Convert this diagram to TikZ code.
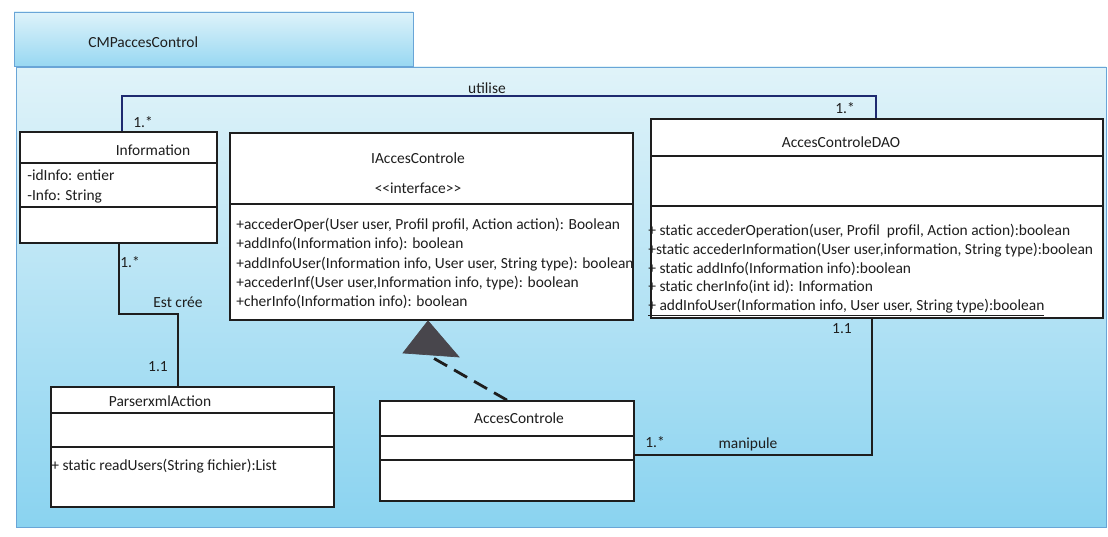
\documentclass[tikz,border=0pt]{standalone}
\usepackage{fontspec}
\setmainfont{Carlito}
\usetikzlibrary{positioning,fit,calc}
\definecolor{pkgtop}{RGB}{224,243,249}
\definecolor{pkgbot}{RGB}{138,211,240}
\definecolor{tabtop}{RGB}{222,243,250}
\definecolor{tabbot}{RGB}{152,216,242}
\definecolor{pkgline}{RGB}{105,165,215}
\definecolor{navyline}{RGB}{30,42,112}
\definecolor{trigray}{RGB}{72,70,76}
\definecolor{ink}{RGB}{30,30,30}
\tikzstyle{classbox} = [draw=ink, fill=white, line width=1pt, inner sep=0pt]
\tikzstyle{member} = [anchor=west, inner sep=0pt, align=left, text=ink,
font=\fontsize{8.8}{10.9}\selectfont]
\tikzstyle{title} = [inner sep=0pt, text=ink, font=\fontsize{8.8}{10}\selectfont]
\tikzstyle{link} = [line width=1pt, draw=ink]
\tikzstyle{realize} = [line width=1.6pt, draw=ink, dash pattern=on 0.3cm off 0.16cm]

\begin{document}
\begin{tikzpicture}[x=0.02cm, y=-0.02cm]
            \useasboundingbox (0,0) rectangle (1108,537);
            \fill[white] (0,0) rectangle (1108,537);
            % package body and tab
            \shade[top color=pkgtop, bottom color=pkgbot, draw=pkgline] (16,67) rectangle (1106,527);
            \shade[top color=tabtop, bottom color=tabbot, draw=pkgline] (14,12) rectangle (413,66);
            \node[title, anchor=west] (pkgname) at (88,42) {CMPaccesControl};

            % classes
            \node[classbox, fit={(20,132) (217,243)}] (info) {};
            \draw[link] ($(info.north west)+(0,32)$) -- ($(info.north east)+(0,32)$);
            \draw[link] ($(info.north west)+(0,76)$) -- ($(info.north east)+(0,76)$);
            \node[title] (infoname) at (153,150) {Information};
            \node[member, font=\fontsize{8.8}{11.4}\selectfont] (infoattr) at (27,186)
            {-idInfo: entier\\-Info: String};

            \node[classbox, fit={(230,133) (633,320)}] (iface) {};
            \draw[link] ($(iface.north west)+(0,72)$) -- ($(iface.north east)+(0,72)$);
            \node[title] (ifacename) at (418,158) {IAccesControle};
            \node[title] (ifacestereo) at (418,188) {{<}{<}interface{>}{>}};
            \node[member] (ifaceops) at (236,263.5)
            {+accederOper(User user, Profil profil, Action action): Boolean\\
            +addInfo(Information info): boolean\\
            +addInfoUser(Information info, User user, String type): boolean\\
            +accederInf(User user,Information info, type): boolean\\
            +cherInfo(Information info): boolean};

            \node[classbox, fit={(651,119) (1103,318)}] (dao) {};
            \draw[link] ($(dao.north west)+(0,38)$) -- ($(dao.north east)+(0,38)$);
            \draw[link] ($(dao.north west)+(0,88)$) -- ($(dao.north east)+(0,88)$);
            \node[title] (daoname) at (841,142) {AccesControleDAO};
            \node[member, font=\fontsize{8.8}{10.7}\selectfont] (daoops) at (648,270.5)
            {+ static accederOperation(user, Profil\ \ profil, Action action):boolean\\
            +static accederInformation(User user,information, String type):boolean\\
            + static addInfo(Information info):boolean\\
            + static cherInfo(int id): Information\\
            \underline{+ addInfoUser(Information info, User user, String type):boolean}};

            \node[classbox, fit={(51,387) (334,507)}] (parser) {};
            \draw[link] ($(parser.north west)+(0,27)$) -- ($(parser.north east)+(0,27)$);
            \draw[link] ($(parser.north west)+(0,61)$) -- ($(parser.north east)+(0,61)$);
            \node[title] (parsername) at (160,401) {ParserxmlAction};
            \node[member] (parserops) at (51,466) {+ static readUsers(String fichier):List};

            \node[classbox, fit={(380,401) (634,501)}] (ac) {};
            \draw[link] ($(ac.north west)+(0,36)$) -- ($(ac.north east)+(0,36)$);
            \draw[link] ($(ac.north west)+(0,60)$) -- ($(ac.north east)+(0,60)$);
            \node[title] (acname) at (519,418) {AccesControle};

            % associations
            \coordinate (useL) at (122,96);
            \coordinate (useR) at (876,96);
            \draw[link, draw=navyline] (info.north -| useL) -- (useL) -- (useR) -- (dao.north -| useR);
            \node[title] (utilise) at (487,88) {utilise};
            \node[title] (useLmult) at (143,122) {1.*};
            \node[title] (useRmult) at (845,108) {1.*};

            \coordinate (creeL) at (119,314);
            \coordinate (creeR) at (178,314);
            \draw[link] (info.south -| creeL) -- (creeL) -- (creeR) -- (parser.north -| creeR);
            \node[title] (creeTmult) at (130,262) {1.*};
            \node[title] (cree) at (178,302) {Est crée};
            \node[title] (creeBmult) at (158,367) {1.1};

            \coordinate (manip) at (872,455);
            \draw[link] (ac.east |- manip) -- (manip) -- (dao.south -| manip);
            \node[title] (manipLmult) at (655,442) {1.*};
            \node[title] (manipule) at (748,444) {manipule};
            \node[title] (manipRmult) at (842,329) {1.1};

            % realization of the interface
            \coordinate (tribase) at (428,355);
            \draw[realize] (ac.north) -- (tribase);
            \filldraw[fill=trigray, draw=trigray] (iface.south -| tribase) -- ($(tribase)+(-25,-2)$)
            -- ($(tribase)+(31,2)$) -- cycle;
        \end{tikzpicture}
\end{document}
